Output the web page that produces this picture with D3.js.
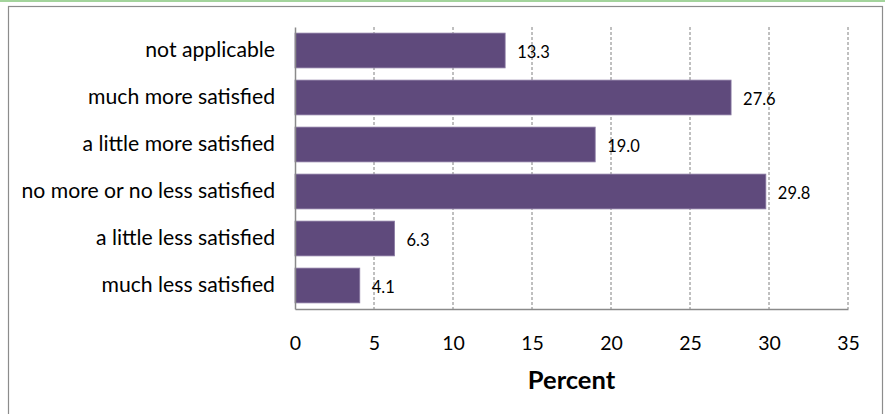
<!DOCTYPE html>
<html>
<head>
<meta charset="utf-8">
<script src="https://cdn.jsdelivr.net/npm/d3@7"></script>
<style>
  body { margin: 0; background: #fff; }
  svg { display: block; font-family: Lato, "Open Sans", sans-serif; }
</style>
</head>
<body>
<svg id="chart" width="885" height="414"></svg>
<script>
// categories top to bottom, as they appear in the chart
const categories = [
  "not applicable",
  "much more satisfied",
  "a little more satisfied",
  "no more or no less satisfied",
  "a little less satisfied",
  "much less satisfied"
];
const percents = [13.3, 27.6, 19.0, 29.8, 6.3, 4.1];
const xTicks = [0, 5, 10, 15, 20, 25, 30, 35];

const svg = d3.select("#chart");
const margin = { top: 27, left: 295, right: 37, bottom: 105 };
const width = 885, height = 414;

// outer frame + green strip at top
svg.append("rect").attr("x", 0).attr("y", 0).attr("width", width).attr("height", 2)
  .attr("fill", "#a3d49c");
svg.append("rect").attr("x", 8.5).attr("y", 6.5).attr("width", 874).attr("height", 420)
  .attr("fill", "none").attr("stroke", "#8c8c8c").attr("stroke-width", 1.2);

const x = d3.scaleLinear().domain([0, 35]).range([margin.left, width - margin.right]);
const y = d3.scaleBand().domain(categories)
  .range([margin.top, height - margin.bottom]).paddingInner(0.26).paddingOuter(0.13);

const bottom = height - margin.bottom;

// dashed gridlines
svg.append("g").selectAll("line").data(xTicks.slice(1)).join("line")
  .attr("x1", d => x(d)).attr("x2", d => x(d))
  .attr("y1", margin.top).attr("y2", bottom)
  .attr("stroke", "#808080").attr("stroke-width", 1).attr("stroke-dasharray", "3,2");

// bars
svg.append("g").selectAll("rect").data(percents).join("rect")
  .attr("x", x(0)).attr("y", (d, i) => y(categories[i]))
  .attr("width", d => x(d) - x(0)).attr("height", y.bandwidth())
  .attr("fill", "#5f4a7c").attr("stroke", "#8b7aa3").attr("stroke-width", 0.8);

// value labels
svg.append("g").selectAll("text").data(percents).join("text")
  .attr("x", d => x(d) + 12).attr("y", (d, i) => y(categories[i]) + y.bandwidth() / 2 + 7)
  .attr("font-size", 16.5).attr("fill", "#000")
  .text(d => d.toFixed(1));

// axes
const xAxis = svg.append("g").attr("transform", `translate(0,${bottom})`)
  .call(d3.axisBottom(x).tickValues(xTicks).tickSize(0).tickPadding(27));
xAxis.select(".domain").attr("stroke", "#8a8a8a").attr("stroke-width", 1.5);
xAxis.selectAll("text").attr("font-size", 19.5).attr("fill", "#000")
  .attr("font-family", "Lato, 'Open Sans', sans-serif");

const yAxis = svg.append("g").attr("transform", `translate(${margin.left},0)`)
  .call(d3.axisLeft(y).tickSize(0).tickPadding(20));
yAxis.select(".domain").attr("stroke", "#8a8a8a").attr("stroke-width", 1.5);
yAxis.selectAll("text").attr("font-size", 21.2).attr("fill", "#000")
  .attr("font-family", "Lato, 'Open Sans', sans-serif");

// axis title
svg.append("text").attr("x", (x(0) + x(35)) / 2).attr("y", 389)
  .attr("text-anchor", "middle").attr("font-size", 25.5).attr("font-weight", "bold")
  .text("Percent");
</script>
</body>
</html>
